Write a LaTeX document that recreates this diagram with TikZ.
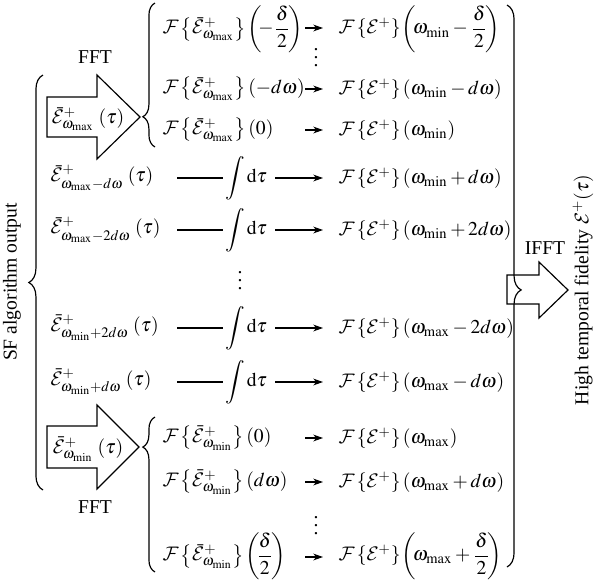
\documentclass[tikz,border=0pt]{standalone}
\usepackage{mathptmx}
\usepackage[no-math]{fontspec}
\setmainfont{Liberation Serif}
\DeclareMathAlphabet{\mathcal}{OMS}{cmsy}{m}{n}
\DeclareSymbolFont{largesymbols}{OMX}{cmex}{m}{n}
\usetikzlibrary{decorations.pathreplacing,arrows.meta}
\newcommand{\Eb}{\bar{\mathcal{E}}^{+}}
\newcommand{\Fr}{\mathcal{F}}
\newcommand{\wmax}{\omega_{\mathrm{max}}}
\newcommand{\wmin}{\omega_{\mathrm{min}}}
\newcommand{\FE}{\Fr\left\{\mathcal{E}^{+}\right\}}
\newcommand{\hd}{{\displaystyle\frac{\delta}{2}}}
\newcommand{\bop}{\mkern-1mu\biggl(\mkern-3mu}
\newcommand{\bcl}{\mkern-2mu\biggr)}
\begin{document}
\begin{tikzpicture}[x=0.51pt,y=-0.51pt, line width=0.6pt,
  every node/.style={font=\fontsize{10}{12}\selectfont, inner sep=1pt},
  lt/.style={anchor=west},
  sarr/.style={-{Stealth[length=5pt,width=3.5pt]}},
  blk/.style={draw, line join=miter},
  brc/.style={decorate, decoration={brace, amplitude=#1}},
]
\useasboundingbox (0,0) rectangle (598,582);

% ---------- top group ----------
\node (fft1) at (95,57) {FFT};
\draw[blk] (47,97) -- (97,97) -- (97,75) -- (140,117) -- (97,159) -- (97,137) -- (47,137) -- cycle;
\node (emax) at (88,119) {$\Eb_{\wmax}\;(\tau)$};
\draw[brc=6.2pt, decoration={aspect=0.21}] (155,147) -- (155,3);

\node[lt] (T1) at (160,29) {$\Fr\left\{\Eb_{\wmax}\right\}\bop-\hd\bcl$};
\node[lt] (T2) at (160,89) {$\Fr\left\{\Eb_{\wmax}\right\}(-d\omega)$};
\node[lt] (T3) at (160,130) {$\Fr\left\{\Eb_{\wmax}\right\}(0)$};
\node (tv) at (316,52) {$\vdots$};
\node[lt] (R1) at (336,29) {$\FE\bop\wmin-\hd\bcl$};
\node[lt] (R2) at (336,89) {$\FE(\wmin-d\omega)$};
\node[lt] (R3) at (336,130) {$\FE(\wmin)$};
\foreach \i/\y in {1/28,2/89,3/130}{
  \coordinate (ta\i) at (305,\y);
  \coordinate (tb\i) at (323,\y);
  \draw[sarr] (ta\i) -- (tb\i);
}

% ---------- middle rows ----------
\node[lt] (ML1) at (48,178) {$\Eb_{\wmax-d\omega}\;(\tau)$};
\node[lt] (ML2) at (48,230) {$\Eb_{\wmax-2d\omega}\;(\tau)$};
\node[lt] (ML3) at (48,328) {$\Eb_{\wmin+2d\omega}\;(\tau)$};
\node[lt] (ML4) at (48,382) {$\Eb_{\wmin+d\omega}\;(\tau)$};
\node[lt] (MR1) at (336,178) {$\FE(\wmin+d\omega)$};
\node[lt] (MR2) at (336,230) {$\FE(\wmin+2d\omega)$};
\node[lt] (MR3) at (336,328) {$\FE(\wmax-2d\omega)$};
\node[lt] (MR4) at (336,382) {$\FE(\wmax-d\omega)$};
\node (mv) at (240,275) {$\vdots$};
\foreach \i/\y in {1/178,2/230,3/328,4/382}{
  \node (I\i) at (246,\y) {$\displaystyle\int\mathrm{d}\tau$};
  \coordinate (ms\i) at (177,\y);
  \coordinate (me\i) at (323,\y);
  \draw (ms\i) -- (I\i.west);
  \draw[sarr, shorten <=3pt] (I\i.east) -- (me\i);
}

% ---------- bottom group ----------
\draw[blk] (47,426) -- (97,426) -- (97,405) -- (139,447) -- (97,489) -- (97,468) -- (47,468) -- cycle;
\node (emin) at (88,449) {$\Eb_{\wmin}\;(\tau)$};
\node (fft2) at (95,507) {FFT};
\draw[brc=6.2pt, decoration={aspect=0.806}] (155,572) -- (155,417);
\node[lt] (B1) at (160,438) {$\Fr\left\{\Eb_{\wmin}\right\}(0)$};
\node[lt] (B2) at (160,482) {$\Fr\left\{\Eb_{\wmin}\right\}(d\omega)$};
\node[lt] (B3) at (160,556) {$\Fr\left\{\Eb_{\wmin}\right\}\bop\hd\bcl$};
\node (bv) at (316,520) {$\vdots$};
\node[lt] (S1) at (336,438) {$\FE(\wmax)$};
\node[lt] (S2) at (336,482) {$\FE(\wmax+d\omega)$};
\node[lt] (S3) at (336,556) {$\FE\bop\wmax+\hd\bcl$};
\foreach \i/\y in {1/438,2/482,3/557}{
  \coordinate (ba\i) at (305,\y);
  \coordinate (bb\i) at (323,\y);
  \draw[sarr] (ba\i) -- (bb\i);
}

% ---------- left brace and label ----------
\draw[brc=7.2pt] (43,490) -- (43,75);
\node[rotate=90] (sfl) at (12,282) {SF algorithm output};

% ---------- right brace, IFFT, label ----------
\draw[blk] (507,275) -- (539,275) -- (539,262) -- (568,290) -- (539,318) -- (539,304) -- (507,304) -- cycle;
\draw[brc=7.2pt, decoration={aspect=0.507}] (507,5) -- (507,567);
\node (ifft) at (545,248) {IFFT};
\node[rotate=90] (hl) at (583,290) {High temporal fidelity $\mathcal{E}^{+}(\tau)$};
\end{tikzpicture}
\end{document}
